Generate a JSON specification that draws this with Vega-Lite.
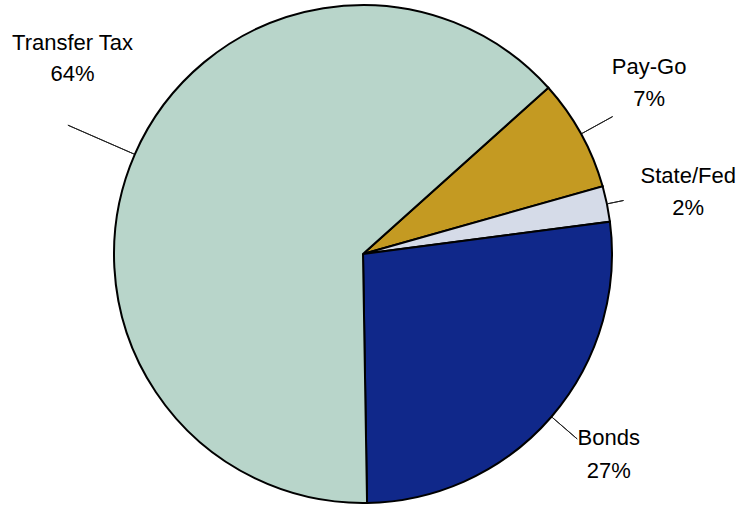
{
  "$schema": "https://vega.github.io/schema/vega-lite/v6.json",
  "width": 726,
  "height": 504,
  "autosize": {"type": "none"},
  "padding": {"left": 0, "top": 2, "right": 10, "bottom": 0},
  "background": "white",
  "config": {"view": {"stroke": null}},
  "data": {
    "values": [
      {"seq": 1, "source": "Pay-Go", "share": 7.26, "label": "Pay-Go\n7%"},
      {"seq": 2, "source": "State/Fed", "share": 2.31, "label": "State/Fed\n2%"},
      {"seq": 3, "source": "Bonds", "share": 26.81, "label": "Bonds\n27%"},
      {"seq": 4, "source": "Transfer Tax", "share": 63.62, "label": "Transfer Tax\n64%"}
    ]
  },
  "layer": [
    {
      "encoding": {
        "theta": {"field": "share", "type": "quantitative", "stack": true, "scale": {"range": [0.8395, 7.1227]}},
        "order": {"field": "seq", "type": "quantitative"}
      },
      "layer": [
        {
          "mark": {"type": "arc", "radius": 249, "stroke": "black", "strokeWidth": 2},
          "encoding": {
            "color": {"field": "source", "type": "nominal", "legend": null,
              "scale": {"domain": ["Pay-Go", "State/Fed", "Bonds", "Transfer Tax"], "range": ["#C49A22", "#D5DBE8", "#10288A", "#B8D5CA"]}}
          }
        },
        {
          "mark": {"type": "text", "radius": 330, "dx": -3, "dy": -28, "font": "Liberation Sans", "fontSize": 22, "lineHeight": 32, "lineBreak": "\n", "align": "center", "baseline": "middle", "color": "black"},
          "encoding": {"text": {"condition": {"test": "datum.source === 'Pay-Go'", "field": "label"}, "value": ""}}
        },
        {
          "mark": {"type": "text", "radius": 330, "dx": 2, "dy": -12, "font": "Liberation Sans", "fontSize": 22, "lineHeight": 32, "lineBreak": "\n", "align": "center", "baseline": "middle", "color": "black"},
          "encoding": {"text": {"condition": {"test": "datum.source === 'State/Fed'", "field": "label"}, "value": ""}}
        },
        {
          "mark": {"type": "text", "radius": 330, "dx": -4, "dy": -32, "font": "Liberation Sans", "fontSize": 22, "lineHeight": 33, "lineBreak": "\n", "align": "center", "baseline": "middle", "color": "black"},
          "encoding": {"text": {"condition": {"test": "datum.source === 'Bonds'", "field": "label"}, "value": ""}}
        },
        {
          "mark": {"type": "text", "radius": 330, "dx": 12, "dy": -79, "font": "Liberation Sans", "fontSize": 22, "lineHeight": 31, "lineBreak": "\n", "align": "center", "baseline": "middle", "color": "black"},
          "encoding": {"text": {"condition": {"test": "datum.source === 'Transfer Tax'", "field": "label"}, "value": ""}}
        }
      ]
    },
    {
      "transform": [
        {"fold": ["share", "share", "share"], "as": ["k", "v"]},
        {"window": [{"op": "row_number", "as": "part"}], "groupby": ["source"]}
      ],
      "encoding": {
        "theta": {"field": "v", "type": "quantitative", "stack": true, "scale": {"range": [0.8395, 7.1227]}},
        "order": [{"field": "seq", "type": "quantitative"}, {"field": "part", "type": "quantitative"}]
      },
      "layer": [
        {
          "mark": {"type": "arc", "radius": 285, "radius2": 250, "padAngle": 3, "filled": false, "stroke": "#222222", "strokeWidth": 1},
          "encoding": {"strokeOpacity": {"condition": {"test": "datum.part === 2 && datum.source === 'Pay-Go'", "value": 1}, "value": 0}}
        },
        {
          "mark": {"type": "arc", "radius": 266, "radius2": 250, "padAngle": 3, "filled": false, "stroke": "#222222", "strokeWidth": 1},
          "encoding": {"strokeOpacity": {"condition": {"test": "datum.part === 2 && datum.source === 'State/Fed'", "value": 1}, "value": 0}}
        },
        {
          "mark": {"type": "arc", "radius": 283, "radius2": 250, "padAngle": 3, "filled": false, "stroke": "#222222", "strokeWidth": 1},
          "encoding": {"strokeOpacity": {"condition": {"test": "datum.part === 2 && datum.source === 'Bonds'", "value": 1}, "value": 0}}
        },
        {
          "mark": {"type": "arc", "radius": 322, "radius2": 250, "padAngle": 3, "filled": false, "stroke": "#222222", "strokeWidth": 1},
          "encoding": {"strokeOpacity": {"condition": {"test": "datum.part === 2 && datum.source === 'Transfer Tax'", "value": 1}, "value": 0}}
        }
      ]
    }
  ],
  "resolve": {"scale": {"theta": "independent"}}
}
